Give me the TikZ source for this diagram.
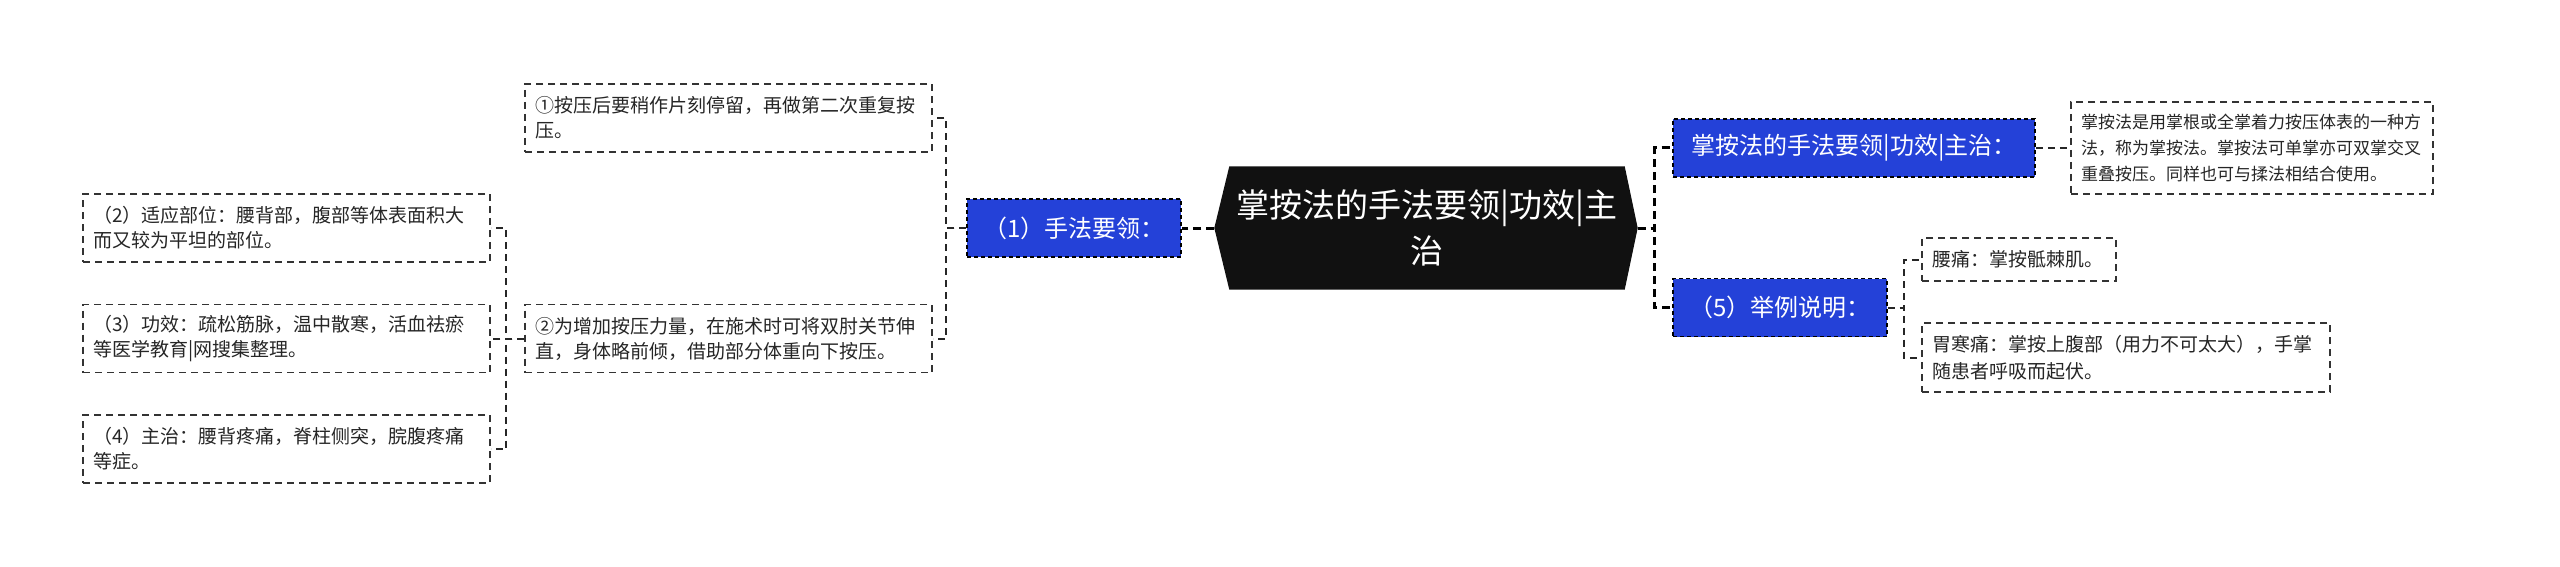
\documentclass[tikz,border=0pt]{standalone}
\usepackage{fontspec}
\setmainfont{Noto Sans CJK SC}
\usetikzlibrary{positioning,backgrounds}
\definecolor{rootfill}{HTML}{111111}
\definecolor{topicblue}{HTML}{2441D8}

\begin{document}
\begin{tikzpicture}
            [x=1pt,y=-1pt,
             root/.style={text=white,align=center,inner sep=0pt,minimum width=395pt,minimum height=123pt,font=\fontsize{33}{46}\selectfont},
             topic/.style={draw=black,line width=1.5pt,dash pattern=on 4pt off 3pt,fill=topicblue,text=white,minimum height=58pt,font=\fontsize{24}{28}\selectfont},
             leaf/.style={draw=black!80,line width=1.5pt,dash pattern=on 7pt off 5pt,fill=white,align=left,inner xsep=10pt,inner ysep=4pt,text=black!85,font=\fontsize{19}{25}\selectfont},
             link/.style={draw=black!85,line width=2pt,dash pattern=on 7pt off 5pt},
             mainlink/.style={draw=black,line width=3pt,dash pattern=on 8pt off 5pt}]
            \useasboundingbox (0,0) rectangle (2560,567);
            \node[root](root) at (1427,228) {掌按法的手法要领|功效|主\\治};
            \begin{scope}[on background layer]
            \fill[rootfill] (root.north west) -- (root.north east) -- ([xshift=13pt]root.east) -- (root.south east) -- (root.south west) -- ([xshift=-15pt]root.west) -- cycle;
            \end{scope}
            % left side
            \node[topic,minimum width=214pt](hand) at (1074,228) {（1）手法要领：};
            \node[leaf,text width=387pt,minimum height=68pt](step1) at (728.5,118) {①按压后要稍作片刻停留，再做第二次重复按\\压。};
            \node[leaf,text width=387pt,minimum height=68pt](step2) at (728.5,338.5) {②为增加按压力量，在施术时可将双肘关节伸\\直，身体略前倾，借助部分体重向下按压。};
            \node[leaf,text width=387pt,minimum height=68pt](site) at (286.5,228) {（2）适应部位：腰背部，腹部等体表面积大\\而又较为平坦的部位。};
            \node[leaf,text width=387pt,minimum height=68pt](effect) at (286.5,338.5) {（3）功效：疏松筋脉，温中散寒，活血祛瘀\\等医学教育|网搜集整理。};
            \node[leaf,text width=387pt,minimum height=68pt](cure) at (286.5,449) {（4）主治：腰背疼痛，脊柱侧突，脘腹疼痛\\等症。};
            % right side
            \node[topic,minimum width=362pt](def) at (1854,148) {掌按法的手法要领|功效|主治：};
            \node[leaf,text width=342pt,minimum height=92pt,font=\fontsize{17}{26}\selectfont](defleaf) at (2252,148) {掌按法是用掌根或全掌着力按压体表的一种方\\法，称为掌按法。掌按法可单掌亦可双掌交叉\\重叠按压。同样也可与揉法相结合使用。};
            \node[topic,minimum width=214pt](example) at (1780,307.5) {（5）举例说明：};
            \node[leaf,text width=174pt,minimum height=43pt](waist) at (2019,259.5) {腰痛：掌按骶棘肌。};
            \node[leaf,text width=388pt,minimum height=69pt,font=\fontsize{19}{27}\selectfont](stomach) at (2126,357.5) {胃寒痛：掌按上腹部（用力不可太大），手掌\\随患者呼吸而起伏。};
            % connectors
            \draw[mainlink] ([xshift=-15pt]root.west) -- (hand.east);
            \foreach \c in {step1,step2}
                \draw[link] (hand.west) -- ++(-20,0) |- (\c.east);
            \foreach \c in {site,effect,cure}
                \draw[link] (step2.west) -- ++(-18,0) |- (\c.east);
            \foreach \c in {def,example}
                \draw[mainlink] ([xshift=13pt]root.east) -- ++(17,0) |- (\c.west);
            \draw[link] (def.east) -- (defleaf.west);
            \foreach \c in {waist,stomach}
                \draw[link] (example.east) -- ++(16,0) |- (\c.west);
        \end{tikzpicture}
\end{document}
